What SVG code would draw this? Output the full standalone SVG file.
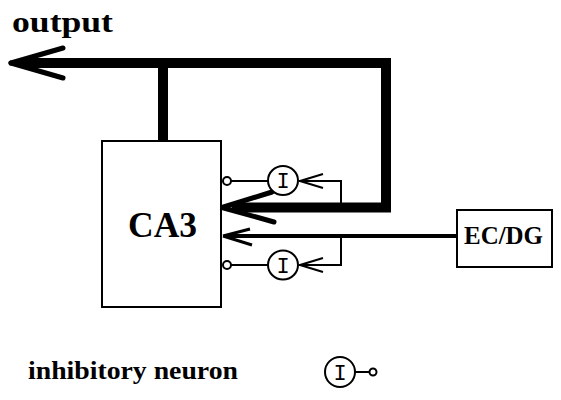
<svg xmlns="http://www.w3.org/2000/svg" width="561" height="400" viewBox="0 0 561 400">
<style>
.lbl{font-family:"Liberation Serif","Times New Roman",serif;font-weight:bold;fill:#000}
.box{fill:#fff;stroke:#000;stroke-width:2}
.thick{fill:none;stroke:#000;stroke-width:10;stroke-linejoin:miter;stroke-linecap:butt}
.mid{fill:none;stroke:#000;stroke-width:4}
.thin{fill:none;stroke:#000;stroke-width:2}
.inh{fill:#fff;stroke:#000;stroke-width:2}
.itxt{font-family:"Liberation Mono","Courier New",monospace;font-size:22px;fill:#000;text-anchor:middle}
</style>
<rect width="561" height="400" fill="#fff"/>
<text class="lbl" x="12" y="32" font-size="30" textLength="101" lengthAdjust="spacingAndGlyphs">output</text>
<g id="connectors">
  <!-- output loop -->
  <path class="thick" d="M20,63 H386 V207.5 H232"/>
  <path class="thick" d="M163,63 V141"/>
  <path d="M11,63 L63,48" stroke="#000" stroke-width="5" stroke-linecap="round" fill="none"/>
  <path d="M11,63 L63,78" stroke="#000" stroke-width="5" stroke-linecap="round" fill="none"/>
  <path d="M222,207.5 L272,192" stroke="#000" stroke-width="5" stroke-linecap="round" fill="none"/>
  <path d="M222,207.5 L274,222" stroke="#000" stroke-width="5" stroke-linecap="round" fill="none"/>
  <!-- EC/DG input -->
  <path class="mid" d="M224,236 H457"/>
  <path d="M223,236 L250,229 M223,236 L252,245" stroke="#000" stroke-width="3" fill="none"/>
  <!-- inhibitory taps -->
  <path class="thin" d="M341,203 V181 H299"/>
  <path d="M300,181 L323,174 M300,181 L323,188" stroke="#000" stroke-width="2" fill="none"/>
  <path class="thin" d="M341,236 V265 H299"/>
  <path d="M300,265 L323,258 M300,265 L323,272" stroke="#000" stroke-width="2" fill="none"/>
  <path class="thin" d="M231,181 H268"/>
  <path class="thin" d="M231,265 H268"/>
</g>
<g id="CA3">
  <rect class="box" x="102" y="141" width="119" height="166"/>
  <text class="lbl" x="162.5" y="237" font-size="36" text-anchor="middle" textLength="69" lengthAdjust="spacingAndGlyphs">CA3</text>
</g>
<g id="ECDG">
  <rect class="box" x="457" y="210" width="95" height="57"/>
  <text class="lbl" x="503.5" y="244" font-size="25" text-anchor="middle" textLength="79" lengthAdjust="spacingAndGlyphs">EC/DG</text>
</g>
<g id="inh1">
  <circle class="inh" cx="227" cy="181" r="4"/>
  <ellipse class="inh" cx="283" cy="180.5" rx="15" ry="14.5"/>
  <text class="itxt" x="283" y="188">I</text>
</g>
<g id="inh2">
  <circle class="inh" cx="227" cy="265" r="4"/>
  <ellipse class="inh" cx="283" cy="265" rx="15" ry="14.5"/>
  <text class="itxt" x="283" y="272.5">I</text>
</g>
<g id="legend">
  <text class="lbl" x="28" y="379" font-size="25" textLength="210" lengthAdjust="spacingAndGlyphs">inhibitory neuron</text>
  <path class="thin" d="M355,372 H370"/>
  <circle class="inh" cx="373" cy="372" r="3.5"/>
  <ellipse class="inh" cx="340" cy="372" rx="15" ry="15"/>
  <text class="itxt" x="340" y="379.5">I</text>
</g>
</svg>
